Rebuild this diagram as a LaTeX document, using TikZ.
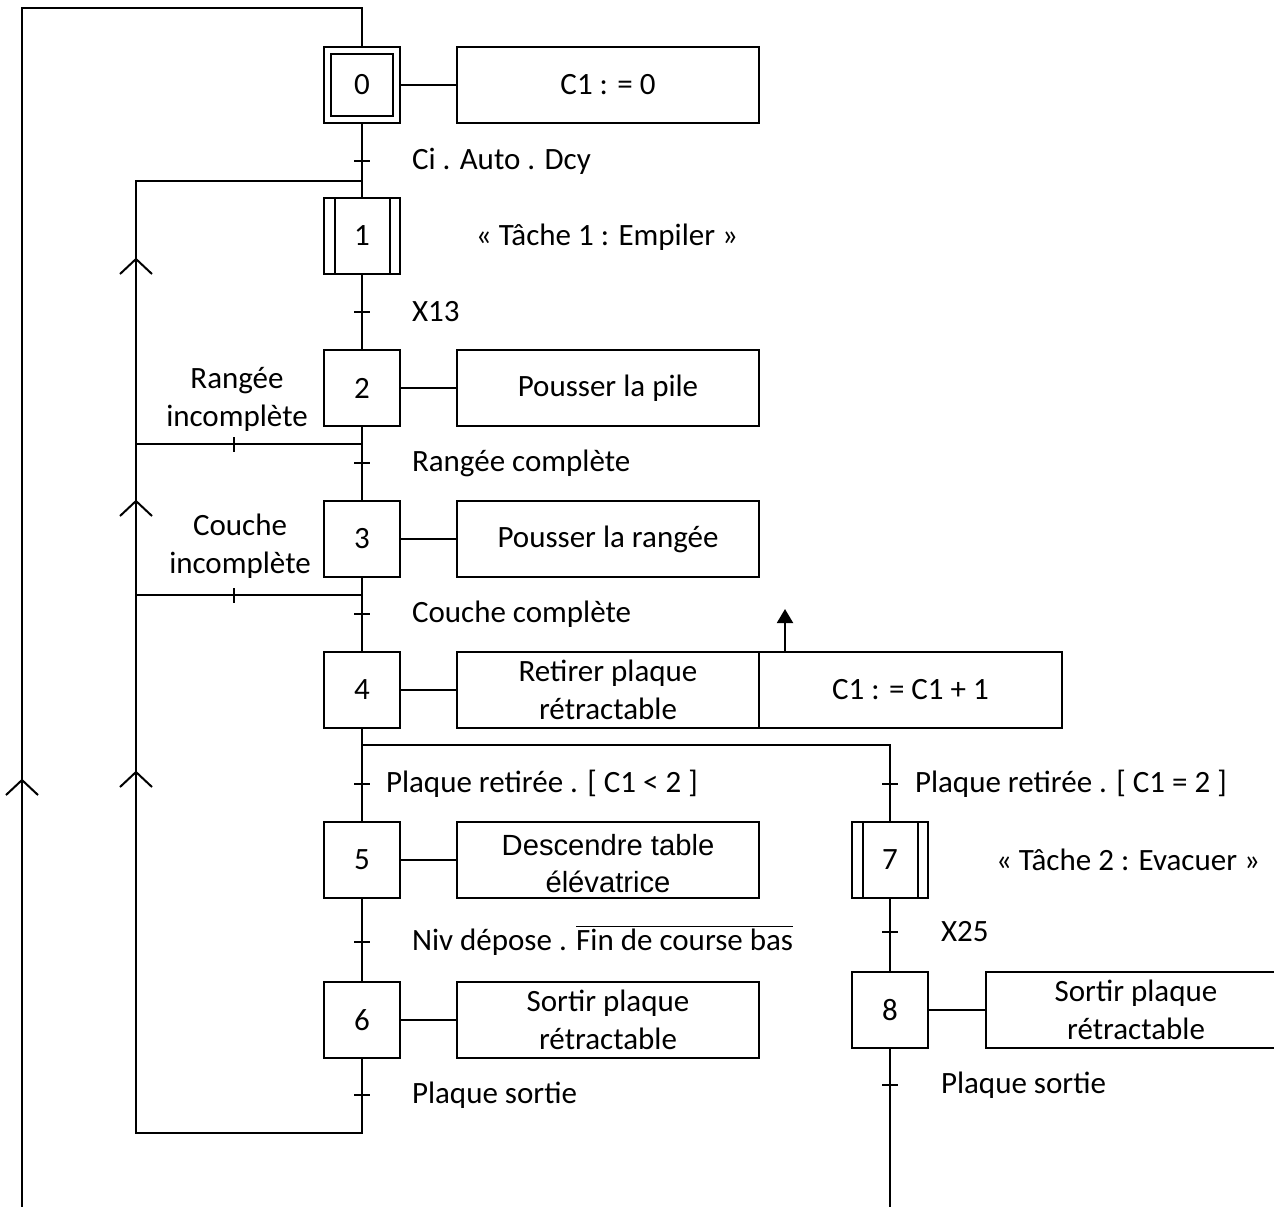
\documentclass[tikz,border=0pt]{standalone}
\usepackage{fontspec}
\setmainfont{Carlito}
\newfontfamily\arialf{Liberation Sans}
\usetikzlibrary{arrows.meta}
\begin{document}
\begin{tikzpicture}[x=0.5pt,y=-0.5pt, line width=1pt,
  font=\fontsize{15.5}{19}\selectfont,
  stepbox/.style={draw, minimum width=38pt, minimum height=38pt, inner sep=0pt},
  actbox/.style={draw, minimum width=151pt, minimum height=38pt, inner sep=0pt, align=center},
  lbl/.style={anchor=west, inner sep=0pt},
  chev/.style={line width=1pt}]
\useasboundingbox (0,0) rectangle (1274,1207);

% steps
\node[stepbox] (s0) at (362,85) {0};
\draw ([shift={(4pt,-4pt)}]s0.north west) rectangle ([shift={(-4pt,4pt)}]s0.south east);
\node[stepbox] (s1) at (362,236) {1};
\draw ([xshift=6pt]s1.north west) -- ([xshift=6pt]s1.south west);
\draw ([xshift=-5.5pt]s1.north east) -- ([xshift=-5.5pt]s1.south east);
\node[stepbox] (s2) at (362,388) {2};
\node[stepbox] (s3) at (362,539) {3};
\node[stepbox] (s4) at (362,690) {4};
\node[stepbox] (s5) at (362,860) {5};
\node[stepbox] (s6) at (362,1020) {6};
\node[stepbox] (s7) at (890,860) {7};
\draw ([xshift=6pt]s7.north west) -- ([xshift=6pt]s7.south west);
\draw ([xshift=-5.5pt]s7.north east) -- ([xshift=-5.5pt]s7.south east);
\node[stepbox] (s8) at (890,1010) {8};

% actions
\node[actbox] (a0) at (608,85) {C1 : = 0};
\node[actbox] (a2) at (608,388) {Pousser la pile};
\node[actbox] (a3) at (608,539) {Pousser la rangée};
\node[actbox] (a4) at (608,690) {Retirer plaque\\rétractable};
\node[actbox, minimum width=151.5pt] (a4b) at (910.5,690) {C1 : = C1 + 1};
\node[actbox, font=\arialf\fontsize{14.6}{18.5}\selectfont] (a5) at (608,860) {};
\node[font=\arialf\fontsize{14.6}{18.5}\selectfont, align=center, inner sep=0pt] (a5t) at (608,864) {Descendre table\\élévatrice};
\node[actbox] (a6) at (608,1020) {Sortir plaque\\rétractable};
\node[actbox, minimum width=150pt] (a8) at (1136,1010) {Sortir plaque\\rétractable};

\draw (s0.east) -- (a0.west);
\draw (s2.east) -- (a2.west);
\draw (s3.east) -- (a3.west);
\draw (s4.east) -- (a4.west);
\draw (s5.east) -- (a5.west);
\draw (s6.east) -- (a6.west);
\draw (s8.east) -- (a8.west);
\coordinate (arr) at (785,609);
\draw[-{Triangle[width=8pt,length=7pt]}] (arr |- a4b.north) -- (arr);

% coordinates of links
\coordinate (top) at (362,8);
\coordinate (topL) at (22,8);
\coordinate (botL) at (22,1207);
\coordinate (j1) at (362,181);
\coordinate (lp1) at (136,181);
\coordinate (lp2) at (136,1133);
\coordinate (j6) at (362,1133);
\coordinate (j2) at (362,444);
\coordinate (l2) at (136,444);
\coordinate (j3) at (362,595);
\coordinate (l3) at (136,595);
\coordinate (dv) at (362,745);
\coordinate (dr) at (890,745);
\coordinate (bot8) at (890,1207);

% links
\draw (s0.north) -- (top) -- (topL) -- (botL);
\draw (s0.south) -- (s1.north);
\draw (s1.south) -- (s2.north);
\draw (s2.south) -- (s3.north);
\draw (s3.south) -- (s4.north);
\draw (s4.south) -- (dv) -- (dr) -- (s7.north);
\draw (dv) -- (s5.north);
\draw (s5.south) -- (s6.north);
\draw (s6.south) -- (j6) -- (lp2) -- (lp1) -- (j1);
\draw (j2) -- (l2);
\draw (j3) -- (l3);
\draw (s7.south) -- (s8.north);
\draw (s8.south) -- (bot8);

% transition ticks
\foreach \y in {161,312,463,614,784,942,1095}
  \draw (354,\y) -- (370,\y);
\foreach \y in {784,932,1085}
  \draw (882,\y) -- (898,\y);
\draw (234,437) -- (234,452);
\draw (234,588) -- (234,603);

% direction chevrons
\draw[chev] (120,274) -- (136,259) -- (152,274);
\draw[chev] (120,516) -- (136,501) -- (152,516);
\draw[chev] (120,787) -- (136,772) -- (152,787);
\draw[chev] (6,795) -- (22,780) -- (38,795);

% labels
\node[lbl] (t0) at (411,161) {Ci . Auto . Dcy};
\node (m1) at (607,237) {« Tâche 1 : Empiler »};
\node[lbl] (t1) at (411,312) {X13};
\node[lbl] (t2) at (411,463) {Rangée complète};
\node[lbl] (t3) at (411,614) {Couche complète};
\node[lbl] (t45) at (385,784) {Plaque retirée . [ C1 < 2 ]};
\node[lbl] (t47) at (914,784) {Plaque retirée . [ C1 = 2 ]};
\node (m2) at (1128,860) {« Tâche 2 : Evacuer »};
\node[lbl] (t56) at (411,940) {Niv dépose . $\overline{\mbox{Fin de course bas}}$};
\node[lbl] (t78) at (940,932) {X25};
\node[lbl] (t6) at (411,1095) {Plaque sortie};
\node[lbl] (t8) at (940,1085) {Plaque sortie};
\node[align=center, inner sep=0pt] (r2) at (237,399) {Rangée\\incomplète};
\node[align=center, inner sep=0pt] (r3) at (240,546) {Couche\\incomplète};
\end{tikzpicture}
\end{document}
